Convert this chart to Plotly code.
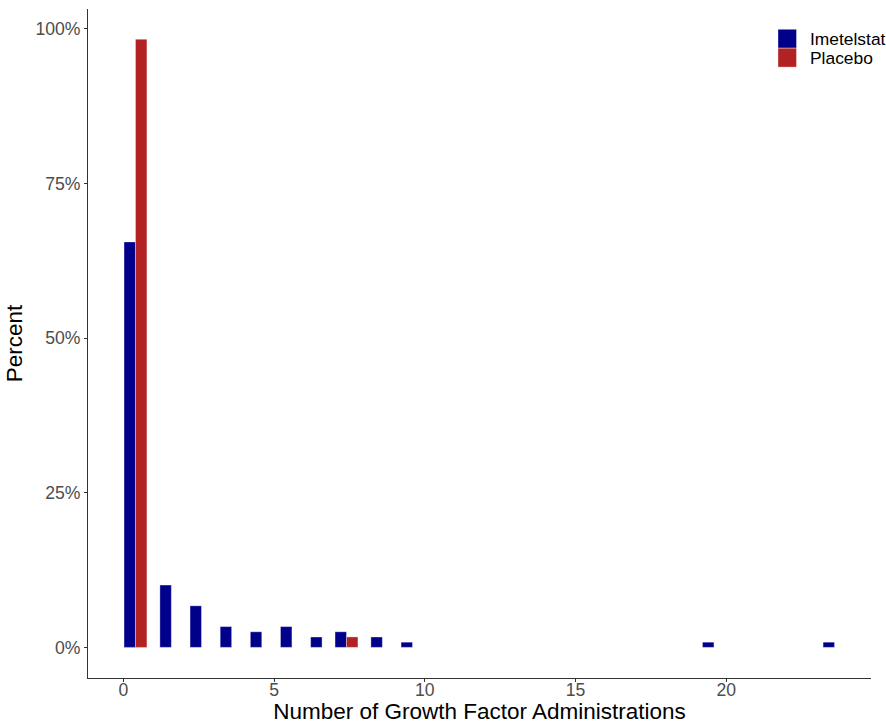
import plotly.graph_objects as go

# Data (percent of patients by number of growth factor administrations)
imet_x = [0, 1, 2, 3, 4, 5, 6, 7, 8, 9, 19, 23]
imet_pct = [65.55, 10.08, 6.72, 3.36, 2.52, 3.36, 1.68, 2.52, 1.68, 0.84, 0.84, 0.84]
plac_x = [0, 7]
plac_pct = [98.31, 1.69]
series_names = ["Imetelstat", "Placebo"]
series_colors = ["#00008B", "#B22222"]

x_ticks = [0, 5, 10, 15, 20]
y_ticks = [0, 25, 50, 75, 100]
y_tick_labels = ["0%", "25%", "50%", "75%", "100%"]

# dodge layout (preserve single, groups centered at x + 0.4)
bar_w = 0.38
center = 0.4
imet_offset = [center - bar_w if x in plac_x else center - bar_w / 2 for x in imet_x]
plac_offset = [center if x in imet_x else center - bar_w / 2 for x in plac_x]

edge = dict(color="rgba(255,255,255,0.6)", width=0.6)
fig = go.Figure()
fig.add_trace(go.Bar(
    x=imet_x, y=imet_pct, name=series_names[0],
    offset=imet_offset, width=bar_w,
    marker=dict(color=series_colors[0], line=edge), showlegend=False,
))
fig.add_trace(go.Bar(
    x=plac_x, y=plac_pct, name=series_names[1],
    offset=plac_offset, width=bar_w,
    marker=dict(color=series_colors[1], line=edge), showlegend=False,
))

FONT = "Liberation Sans, Arial, sans-serif"
axis_font = dict(family=FONT, size=17.6, color="#4D4D4D")
title_font = dict(family=FONT, size=22.5, color="#000000")

# plot-area geometry in pixels
W, H = 886, 724
ML, MR, MT, MB = 88, 15, 9, 46
PW, PH = W - ML - MR, H - MT - MB

def px_x(p):
    return (p - ML) / PW

def px_y(p):
    return (H - MB - p) / PH

# ggplot-style legend (keys ~18.5px, stacked without gap)
shapes, annotations = [], []
key_left, key_right, key_top, key_h, text_left = 778, 796.5, 29.3, 18.9, 808
for i, (nm, col) in enumerate(zip(series_names, series_colors)):
    top = key_top + i * key_h
    shapes.append(dict(type="rect", xref="paper", yref="paper",
                       x0=px_x(key_left), x1=px_x(key_right),
                       y0=px_y(top + key_h), y1=px_y(top),
                       fillcolor=col, line=dict(color="rgba(255,255,255,0.6)", width=0.6)))
    annotations.append(dict(text=nm, xref="paper", yref="paper", x=px_x(text_left),
                            y=px_y(top + key_h / 2), xanchor="left", yanchor="middle",
                            showarrow=False, font=dict(family=FONT, size=17.4, color="#000000")))

fig.update_layout(
    width=W, height=H,
    margin=dict(l=ML, r=MR, t=MT, b=MB, autoexpand=False),
    paper_bgcolor="white", plot_bgcolor="white",
    barmode="overlay",
    showlegend=False,
    shapes=shapes, annotations=annotations,
    xaxis=dict(
        range=[-1.175, 24.8], tickmode="array", tickvals=x_ticks, automargin=False,
        showgrid=False, zeroline=False, showline=True, linecolor="#333333", linewidth=1.2,
        ticks="outside", ticklen=3, tickcolor="#333333", tickfont=axis_font,
        ticklabelstandoff=-7,
        title=dict(text="Number of Growth Factor Administrations", font=title_font, standoff=2),
    ),
    yaxis=dict(
        range=[-4.95, 103.2], tickmode="array", tickvals=y_ticks, ticktext=y_tick_labels,
        automargin=False,
        showgrid=False, zeroline=False, showline=True, linecolor="#333333", linewidth=1.2,
        ticks="outside", ticklen=3, tickcolor="#333333", tickfont=axis_font,
        title=dict(text="Percent", font=title_font, standoff=6),
    ),
)

fig.write_html("out.html")
